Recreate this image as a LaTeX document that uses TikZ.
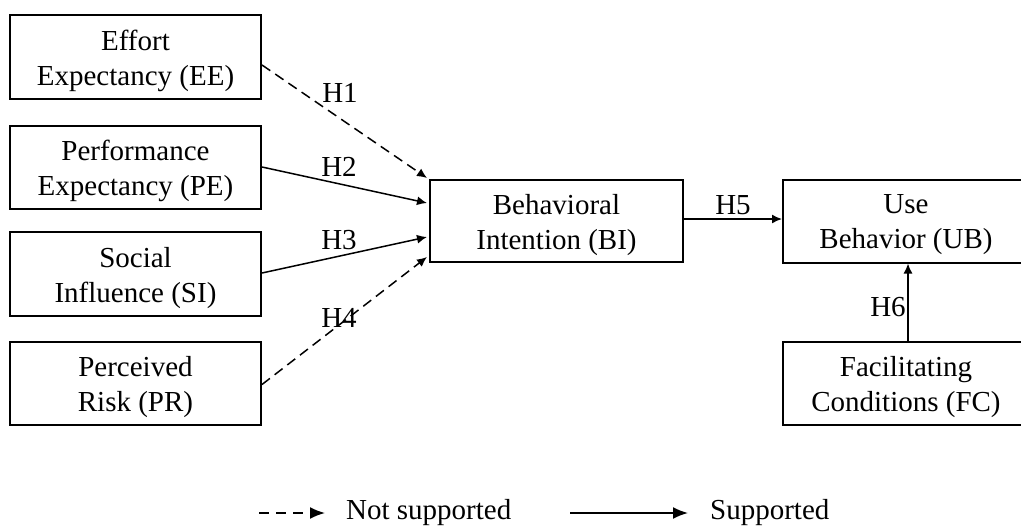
\documentclass[tikz,border=0pt]{standalone}
\usepackage{fontspec}
\setmainfont{Liberation Serif}
\usetikzlibrary{arrows.meta,calc}
\begin{document}
\begin{tikzpicture}[x=1pt,y=-1pt,
  box/.style={draw, line width=2pt, inner sep=0pt},
  boxtext/.style={inner sep=0pt, align=center, yshift=-4pt,
    font=\fontsize{29}{35}\selectfont},
  lbl/.style={inner sep=0pt, font=\fontsize{29}{35}\selectfont},
  sup/.style={line width=1.5pt, -{Latex[length=10pt,width=9pt]}},
  nsup/.style={line width=1.5pt, dash pattern=on 10pt off 6pt, -{Latex[length=10pt,width=9pt]}},
  legsup/.style={line width=1.8pt, -{Latex[length=15pt,width=12pt]}},
  legnsup/.style={line width=1.8pt, dash pattern=on 10pt off 7pt, -{Latex[length=15pt,width=12pt]}}]
\useasboundingbox (0,0) rectangle (1021,528);
\clip (0,0) rectangle (1021,528);
\node[box, minimum width=251pt, minimum height=84pt, label={[boxtext]center:Effort\\Expectancy (EE)}] (EE) at (135.5,57) {};
\node[box, minimum width=251pt, minimum height=83pt, label={[boxtext]center:Performance\\Expectancy (PE)}] (PE) at (135.5,167) {};
\node[box, minimum width=251pt, minimum height=84pt, label={[boxtext]center:Social\\Influence (SI)}] (SI) at (135.5,274) {};
\node[box, minimum width=251pt, minimum height=83pt, label={[boxtext]center:Perceived\\Risk (PR)}] (PR) at (135.5,383.5) {};
\node[box, minimum width=253pt, minimum height=82pt, label={[boxtext]center:Behavioral\\Intention (BI)}] (BI) at (556.5,221) {};
\node[box, minimum width=246pt, minimum height=83pt, label={[boxtext]center:Use\\Behavior (UB)}] (UB) at (906,221) {};
\node[box, minimum width=246pt, minimum height=83pt, label={[boxtext]center:Facilitating\\Conditions (FC)}] (FC) at (906,383.5) {};

\draw[nsup] ($(EE.east)+(0,8)$) -- ($(BI.west)+(-2,-43)$);
\draw[sup] (PE.east) -- ($(BI.west)+(-2,-18)$);
\draw[sup] ($(SI.east)+(0,-1)$) -- ($(BI.west)+(-2,16)$);
\draw[nsup] ($(PR.east)+(0,1)$) -- ($(BI.west)+(-2,36)$);
\draw[sup] ($(BI.east)+(0,-2)$) -- ($(UB.west)+(0,-2)$);
\draw[sup] ($(FC.north)+(2,0)$) -- ($(UB.south)+(2,0)$);

\node[lbl] (h1) at (340,93) {H1};
\node[lbl] (h2) at (339,167) {H2};
\node[lbl] (h3) at (339,240) {H3};
\node[lbl] (h4) at (339,318) {H4};
\node[lbl] (h5) at (733,205) {H5};
\node[lbl] (h6) at (888,307) {H6};

\coordinate (l1a) at (259,513);
\coordinate (l1b) at (325,513);
\draw[legnsup] (l1a) -- (l1b);
\node[lbl, anchor=west] (ns) at (346,513) {Not supported};
\coordinate (l2a) at (570,513);
\coordinate (l2b) at (688,513);
\draw[legsup] (l2a) -- (l2b);
\node[lbl, anchor=west] (s) at (710,513) {Supported};
\end{tikzpicture}
\end{document}
